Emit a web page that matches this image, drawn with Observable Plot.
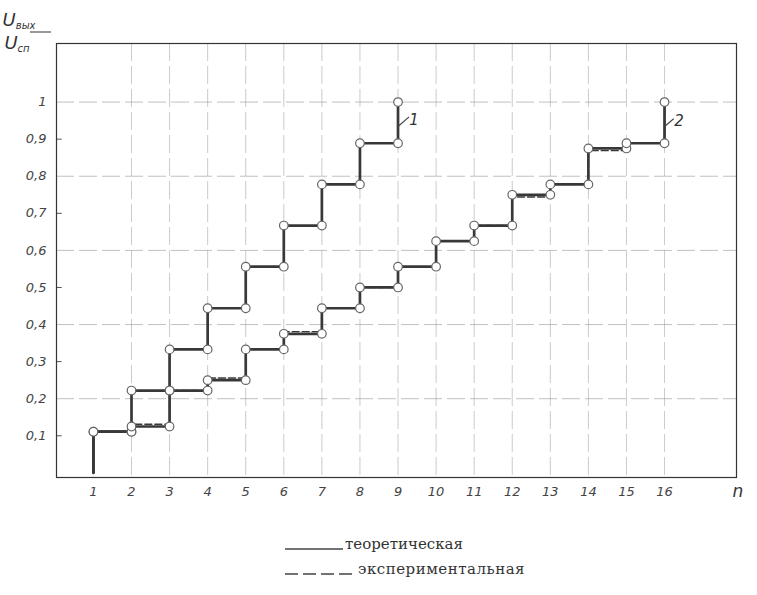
<!DOCTYPE html>
<html>
<head>
<meta charset="utf-8">
<script src="https://cdn.jsdelivr.net/npm/d3@7"></script>
<script src="https://cdn.jsdelivr.net/npm/@observablehq/plot@0.6"></script>
<style>
  body { margin: 0; background: #fff; }
  #wrap { position: relative; width: 757px; height: 595px; overflow: hidden; }
  .legtext { position: absolute; font-family: "DejaVu Serif", "Liberation Serif", serif; font-size: 15px; color: #333; white-space: nowrap; }
  .legline { position: absolute; }
</style>
</head>
<body>
<div id="wrap">
  <div id="chart"></div>
  <svg class="legline" style="left:285px;top:540px" width="60" height="12"><line x1="0" x2="58" y1="9" y2="9" stroke="#444" stroke-width="1.3"/></svg>
  <div class="legtext" style="left:345px;top:535px">теоретическая</div>
  <svg class="legline" style="left:285px;top:565px" width="72" height="12"><line x1="0" x2="70" y1="9" y2="9" stroke="#444" stroke-width="1.3" stroke-dasharray="13,5"/></svg>
  <div class="legtext" style="left:358px;top:560px;letter-spacing:0.5px">экспериментальная</div>
</div>
<script>
// ---- data ----
const nTicks = [1, 2, 3, 4, 5, 6, 7, 8, 9, 10, 11, 12, 13, 14, 15, 16];
const yTickValues = [0.1, 0.2, 0.3, 0.4, 0.5, 0.6, 0.7, 0.8, 0.9, 1.0];
const yTickLabels = ["0,1", "0,2", "0,3", "0,4", "0,5", "0,6", "0,7", "0,8", "0,9", "1"];
const minorTickValues = [0.1, 0.3, 0.5, 0.7, 0.9];
const gridYValues = [0.2, 0.4, 0.6, 0.8, 1.0];
const gridXValues = [2, 3, 4, 5, 6, 7, 8, 9, 10, 11, 12, 13, 14, 15, 16];

// level reached after the step at n = index (index 0 = start level)
const theoretical1 = [0, 0.111, 0.222, 0.333, 0.444, 0.556, 0.667, 0.778, 0.889, 1.0];
const theoretical2 = [0, 0.111, 0.125, 0.222, 0.25, 0.333, 0.375, 0.444, 0.5, 0.556, 0.625, 0.667, 0.75, 0.778, 0.875, 0.889, 1.0];
const experimental2 = [0, 0.111, 0.131, 0.222, 0.256, 0.333, 0.381, 0.444, 0.5, 0.556, 0.625, 0.667, 0.744, 0.778, 0.869, 0.889, 1.0];

const seriesLabels = [
  { n: 9, v: 0.934, n2: 9.29, v2: 0.96, tn: 9.42, tv: 0.95, text: "1" },
  { n: 16, v: 0.934, n2: 16.24, v2: 0.955, tn: 16.38, tv: 0.948, text: "2" }
];

const xDomain = [0.03, 17.89];
const yDomain = [-0.0125, 1.158];

// ---- build step paths ----
function stepPoints(levels) {
  const pts = [];
  for (let k = 1; k < levels.length; k++) {
    pts.push({ n: k, v: levels[k - 1] }, { n: k, v: levels[k] });
  }
  return pts;
}
function nodePoints(levels) {
  const pts = [];
  for (let k = 1; k < levels.length; k++) {
    if (k >= 2) pts.push({ n: k, v: levels[k - 1] });
    pts.push({ n: k, v: levels[k] });
  }
  return pts;
}

const tickLabel = new Map(yTickValues.map((v, i) => [v, yTickLabels[i]]));
const lineColor = "#383838";
const gridColor = "#a0a0a0";
const tickFont = "DejaVu Sans, sans-serif";

const plot = Plot.plot({
  width: 757,
  height: 510,
  marginLeft: 56,
  marginRight: 21,
  marginTop: 43,
  marginBottom: 33,
  style: { background: "#fff", fontFamily: tickFont, fontSize: "13px", color: "#444" },
  x: { domain: xDomain },
  y: { domain: yDomain },
  marks: [
    Plot.ruleY(gridYValues, { stroke: gridColor, strokeWidth: 1, strokeOpacity: 0.65, strokeDasharray: "18,5" }),
    Plot.ruleX(gridXValues, { stroke: gridColor, strokeWidth: 1, strokeOpacity: 0.55, strokeDasharray: "18,5" }),
    Plot.ruleY(minorTickValues, { x1: xDomain[0], x2: xDomain[0] + 0.15, stroke: "#555", strokeWidth: 1 }),
    Plot.frame({ stroke: "#333", strokeWidth: 1.2 }),
    Plot.axisY({ ticks: yTickValues, tickFormat: d => tickLabel.get(d), tickSize: 0, tickPadding: 10, fontStyle: "italic", fontSize: 13 }),
    Plot.axisX({ ticks: nTicks, tickFormat: d => String(d), tickSize: 0, tickPadding: 9, fontStyle: "italic", fontSize: 13, label: null }),
    Plot.line(stepPoints(experimental2), { x: "n", y: "v", stroke: lineColor, strokeWidth: 1.4, strokeDasharray: "7,3" }),
    Plot.line(stepPoints(theoretical1), { x: "n", y: "v", stroke: lineColor, strokeWidth: 2.7 }),
    Plot.line(stepPoints(theoretical2), { x: "n", y: "v", stroke: lineColor, strokeWidth: 2.7 }),
    Plot.dot(nodePoints(theoretical1), { x: "n", y: "v", r: 4.3, fill: "#fff", stroke: "#666", strokeWidth: 1.2 }),
    Plot.dot(nodePoints(theoretical2), { x: "n", y: "v", r: 4.3, fill: "#fff", stroke: "#666", strokeWidth: 1.2 }),
    Plot.link(seriesLabels, { x1: "n", y1: "v", x2: "n2", y2: "v2", stroke: "#444", strokeWidth: 1.2 }),
    Plot.text(seriesLabels, { x: "tn", y: "tv", text: "text", fontStyle: "italic", fontSize: 15, fill: "#333" })
  ]
});

document.getElementById("chart").appendChild(plot);

const svg = d3.select(plot);
// x-axis quantity label
svg.append("text").attr("x", 738).attr("y", 497).attr("text-anchor", "middle")
  .attr("font-family", tickFont).attr("font-style", "italic").attr("font-size", 17).attr("fill", "#333").text("n");

// axis quantity label U_вых / U_сп at the top left
const lab = svg.append("g").attr("font-family", tickFont).attr("font-style", "italic").attr("fill", "#333");
const t1 = lab.append("text").attr("x", 19).attr("y", 26).attr("font-size", 18);
t1.append("tspan").text("U");
t1.append("tspan").attr("font-size", 10).attr("dy", 3).text("вых");
lab.append("line").attr("x1", 30).attr("x2", 51).attr("y1", 32).attr("y2", 32).attr("stroke", "#333").attr("stroke-width", 1);
const t2 = lab.append("text").attr("x", 17).attr("y", 49).attr("font-size", 18);
t2.append("tspan").text("U");
t2.append("tspan").attr("font-size", 10).attr("dy", 3).text("сп");
</script>
</body>
</html>
